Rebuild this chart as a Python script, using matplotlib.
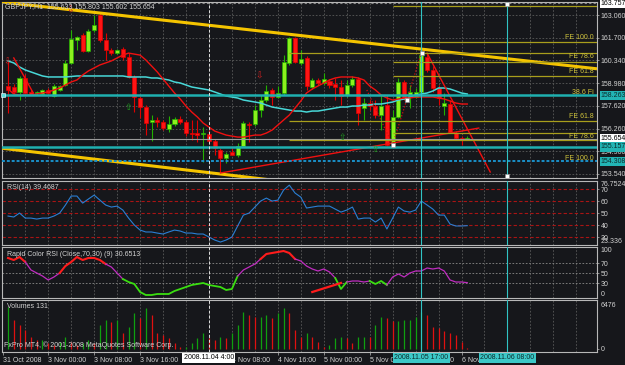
import numpy as np
import matplotlib.pyplot as plt
from matplotlib.transforms import blended_transform_factory as blend

plt.rcParams['font.family'] = ['Liberation Sans', 'DejaVu Sans']
plt.rcParams['font.size'] = 5

W, H = 625, 365
BG = '#16171b'
FG = '#d2d2d2'
GRID = '#5a5a5a'
FRAME = '#b8b8b8'

# GBPJPY H1, bar 0 = 31 Oct 2008 17:00 ... bar 80 = 6 Nov 2008 01:00
opens = [158.81, 158.75, 158.45, 159.29, 158.45, 158.39, 158.33, 158.57, 158.21, 158.57,
         158.87, 160.19, 161.56, 161.86, 160.90, 162.16, 163.06, 161.56, 160.96, 160.78,
         161.02, 160.55, 159.35, 158.09, 157.55, 156.65, 156.77, 156.65, 156.23, 156.53,
         156.83, 156.65, 155.99, 155.99, 155.93, 155.93, 155.51, 154.98, 154.50, 154.86,
         154.68, 155.22, 156.53, 156.53, 157.37, 157.97, 158.57, 158.15, 158.39, 160.19,
         161.68, 160.19, 160.49, 158.75, 159.17, 158.99, 159.11, 158.93, 158.75, 158.27,
         158.87, 159.23, 157.49, 157.79, 157.61, 157.07, 157.67, 155.39, 156.95, 159.05,
         158.21, 158.15, 158.45, 160.55, 159.77, 158.69, 157.61, 157.73, 155.99, 155.69,
         155.633]
highs = [160.37, 158.93, 159.41, 159.53, 158.57, 158.51, 158.63, 158.69, 158.93, 158.87,
         160.37, 162.16, 161.80, 161.98, 162.22, 163.06, 163.18, 161.98, 161.08, 161.02,
         161.14, 160.78, 159.47, 158.21, 157.67, 157.07, 156.95, 156.77, 157.01, 156.95,
         157.01, 156.77, 156.77, 156.77, 156.35, 156.17, 155.63, 155.10, 154.86, 155.10,
         155.39, 156.71, 156.65, 157.67, 158.27, 158.87, 158.69, 158.81, 160.66, 161.74,
         161.74, 160.96, 160.60, 159.29, 159.29, 159.59, 159.23, 159.29, 159.17, 159.17,
         159.41, 159.35, 158.09, 157.97, 157.97, 158.27, 158.27, 157.37, 159.29, 159.17,
         158.87, 158.69, 160.78, 160.72, 160.01, 158.87, 158.39, 157.97, 156.11, 155.81,
         155.803]
lows = [157.19, 158.27, 157.97, 158.39, 158.27, 158.27, 158.27, 158.33, 158.15, 158.51,
        158.81, 160.13, 160.96, 160.84, 160.84, 162.04, 161.44, 160.37, 160.66, 160.72,
        160.37, 159.29, 157.25, 156.89, 155.87, 155.51, 156.35, 156.17, 156.05, 156.41,
        156.53, 155.81, 155.57, 155.45, 154.26, 155.45, 154.68, 153.60, 154.20, 154.68,
        154.56, 155.16, 155.45, 156.41, 156.95, 157.85, 157.67, 158.09, 158.27, 160.07,
        160.19, 160.07, 158.57, 158.63, 158.87, 158.87, 158.69, 157.97, 157.67, 158.15,
        158.75, 156.47, 156.77, 157.37, 156.89, 156.17, 155.22, 155.22, 156.89, 157.97,
        157.49, 158.09, 158.33, 159.65, 158.45, 157.67, 157.07, 155.99, 155.57, 155.28,
        155.602]
closes = [158.57, 158.45, 159.29, 158.39, 158.27, 158.40, 158.57, 158.39, 158.81, 158.81,
          160.19, 161.62, 161.74, 160.90, 162.10, 162.46, 161.56, 160.96, 160.78, 160.96,
          160.55, 159.35, 158.15, 157.55, 156.59, 156.77, 156.65, 156.29, 156.53, 156.83,
          156.65, 155.99, 155.93, 155.87, 155.99, 155.51, 155.10, 154.50, 154.74, 154.68,
          155.22, 156.59, 156.47, 157.37, 157.97, 158.51, 158.15, 158.39, 160.25, 161.68,
          160.25, 160.43, 158.81, 159.17, 158.99, 159.23, 158.87, 158.75, 158.21, 158.87,
          159.23, 157.19, 157.79, 157.61, 157.07, 157.61, 155.28, 156.95, 159.05, 158.09,
          158.45, 158.45, 160.66, 159.77, 158.69, 158.09, 157.79, 156.05, 155.69, 155.63,
          155.654]

ma_red = [158.63, 158.33, 158.27, 158.27, 158.27, 158.33, 158.39, 158.45, 158.57, 158.69,
          158.87, 159.05, 159.17, 159.47, 159.71, 159.89, 160.07, 160.19, 160.31, 160.49,
          160.66, 160.78, 160.72, 160.66, 160.37, 160.01, 159.65, 159.23, 158.81, 158.39,
          158.03, 157.61, 157.25, 156.95, 156.59, 156.35, 156.11, 155.99, 155.87, 155.81,
          155.75, 155.75, 155.81, 155.87, 155.87, 155.99, 156.17, 156.47, 156.77, 157.07,
          157.49, 157.91, 158.39, 158.63, 158.81, 158.99, 159.17, 159.29, 159.35, 159.35,
          159.35, 159.29, 159.17, 158.81, 158.57, 158.27, 158.09, 157.97, 158.03, 158.09,
          158.09, 158.15, 158.15, 158.15, 158.15, 158.09, 158.03, 157.91, 157.79, 157.73,
          157.73]
ma_cyan = [160.31, 160.19, 159.95, 159.77, 159.65, 159.53, 159.41, 159.35, 159.35, 159.35,
           159.35, 159.38, 159.41, 159.41, 159.41, 159.41, 159.41, 159.41, 159.41, 159.41,
           159.41, 159.35, 159.35, 159.35, 159.35, 159.29, 159.29, 159.23, 159.17, 159.05,
           158.99, 158.87, 158.75, 158.69, 158.63, 158.57, 158.45, 158.33, 158.21, 158.15,
           158.09, 157.97, 157.91, 157.85, 157.79, 157.67, 157.55, 157.49, 157.43, 157.37,
           157.31, 157.31, 157.25, 157.31, 157.31, 157.37, 157.43, 157.49, 157.55, 157.55,
           157.61, 157.61, 157.67, 157.67, 157.73, 157.73, 157.79, 157.85, 157.97, 158.03,
           158.15, 158.27, 158.33, 158.39, 158.51, 158.69, 158.69, 158.63, 158.51, 158.39,
           158.33]

rsi = [47.5, 46.7, 50.0, 45.8, 45.8, 45.0, 45.8, 45.8, 47.5, 50.0,
       56.7, 64.2, 64.2, 58.3, 61.7, 65.0, 60.8, 56.7, 55.0, 55.8,
       52.5, 45.8, 40.0, 35.8, 34.2, 34.2, 33.3, 32.5, 34.2, 35.8,
       35.0, 33.3, 33.3, 32.5, 32.5, 30.0, 27.5, 25.8, 27.5, 30.0,
       39.2, 48.3, 50.0, 55.0, 60.0, 62.5, 60.0, 60.8, 69.2, 73.3,
       66.7, 63.3, 54.2, 55.0, 55.8, 55.8, 55.8, 53.3, 50.8, 52.5,
       55.0, 45.0, 45.8, 45.8, 42.5, 45.8, 36.7, 45.8, 55.0, 51.7,
       50.8, 52.5, 60.0, 56.7, 53.3, 48.3, 48.3, 40.8, 39.2, 39.2,
       39.47]
rrsi = [80, 76, 82, 72, 56, 50, 44, 36, 42, 50,
        64, 72, 82, 76, 80, 80, 76, 68, 62, 50,
        38, 32, 28, 12, 6, 6, 8, 8, 8, 14,
        18, 22, 26, 28, 30, 26, 24, 22, 16, 18,
        44, 56, 62, 68, 78, 88, 90, 92, 94, 90,
        78, 74, 64, 58, 54, 58, 52, 40, 18, 32,
        34, 34, 32, 34, 28, 34, 26, 42, 48, 42,
        50, 54, 54, 60, 58, 60, 54, 36, 32, 32,
        30.65]
# colour state of the Rapid Color RSI line: (first bar, last bar, state)
rrsi_segments = [(0, 3, 'up'), (3, 9, 'mid'), (9, 17, 'up'), (17, 20, 'mid'),
                 (20, 40, 'down'), (40, 44, 'mid'), (44, 50, 'up'), (50, 57, 'mid'),
                 (57, 59, 'down'), (59, 63, 'mid'), (63, 66, 'down'), (66, 80, 'mid')]
volumes = [5544, 3828, 3168, 2508, 1584, 1188, 1250, 792, 528, 924,
           1584, 924, 528, 792, 1188, 792, 3168, 3828, 3564, 3828,
           2112, 2904, 4752, 4092, 5412, 4488, 2112, 1848, 1452, 792,
           264, 300, 792, 1452, 2112, 1452, 1188, 1584, 1452, 2112,
           3168, 4884, 4488, 4224, 4250, 4488, 4092, 4752, 5412, 4752,
           2508, 1584, 2112, 1584, 924, 264, 528, 1452, 1584, 1452,
           792, 1584, 1600, 1560, 3168, 4224, 4092, 3696, 3720, 3828,
           3850, 4224, 4900, 4488, 2904, 2772, 2376, 2112, 1848, 924,
           131]

time_ticks = [-0.9, 7, 15, 23, 31, 39, 47, 55, 63, 71, 79]
time_labels = ['31 Oct 2008', '3 Nov 00:00', '3 Nov 08:00', '3 Nov 16:00', '4 Nov 00:00',
               '4 Nov 08:00', '4 Nov 16:00', '5 Nov 00:00', '5 Nov 08:00', '5 Nov 16:00',
               '6 Nov 00:00']
price_ticks = [163.06, 161.70, 160.34, 158.98, 157.62, 156.26, 154.90, 153.54]

# chart objects
upper_trend = ([16, 72], [163.18, 161.02])
lower_trend = ([0, 37], [155.04, 153.54])
red_support = ([37, 82], [153.60, 156.29])
red_steep = ([73, 84], [160.78, 153.66])
red_short = ([1, 4.4], [160.49, 158.39])
zigzag = ([62.5, 67, 72], [158.57, 155.28, 160.78])
cyan_levels = [158.263, 155.157]
blue_level = 154.308
bid = 155.654
top_line = 163.757
fe_lines = [(163.60, 67), (161.44, 67), (160.78, 49), (160.25, 67), (159.41, 67),
            (156.71, 49), (155.99, 67), (155.57, 49)]
fe_labels = [(161.74, 'FE 100.0'), (160.55, 'FE 78.6'), (159.65, 'FE 61.8'), (158.45, '38.6 Fi'),
             (157.01, 'FE 61.8'), (155.81, 'FE 78.6'), (154.44, 'FE 100.0')]
rrsi_trend = ([53, 58], [12, 30])
line_04 = 35
line_05 = 72
line_06 = 87

fig = plt.figure(figsize=(W / 100, H / 100), dpi=100, facecolor=BG)


def panel(y0, y1):
    ax = fig.add_axes([2 / W, 1 - y1 / H, 595 / W, (y1 - y0) / H])
    ax.set_facecolor(BG)
    ax.set_xlim(-1.05, 102.6)
    for s in ax.spines.values():
        s.set_color(FRAME)
        s.set_linewidth(0.8)
    ax.tick_params(axis='x', bottom=False, labelbottom=False)
    ax.yaxis.tick_right()
    ax.tick_params(axis='y', colors=FRAME, labelcolor=FG, length=1.5, width=0.5, pad=1, labelsize=5)
    for g in range(3, 103, 4):
        ax.axvline(g, color=GRID, lw=0.6, ls=(0, (2, 2)), zorder=0)
    ax.axvline(line_04, color='#e0e0e0', lw=0.7, ls=(0, (3, 2)), zorder=4)
    ax.axvline(line_05, color='#30c4c4', lw=0.8, zorder=4)
    ax.axvline(line_06, color='#30c4c4', lw=0.8, zorder=4)
    return ax


x = np.arange(len(opens))
o, hi, lo, c = map(np.array, (opens, highs, lows, closes))

# ---- price panel ----
ax = panel(2, 178)
ax.set_ylim(153.30, 163.84)
ax.set_yticks(price_ticks, [f'{p:.3f}' for p in price_ticks])
ax.grid(axis='y', color=GRID, lw=0.6, ls=(0, (2, 2)))
ax.set_axisbelow(True)

up = c >= o
body_lo = np.minimum(o, c)
body_h = np.maximum(np.abs(c - o), 0.05)
ax.vlines(x[up], lo[up], hi[up], color='#22b000', lw=0.8, zorder=2)
ax.bar(x[up], body_h[up], bottom=body_lo[up], width=0.7, color='#8cf01e', edgecolor='#22b000', lw=0.5, zorder=2)
ax.vlines(x[~up], lo[~up], hi[~up], color='#e00000', lw=0.8, zorder=2)
ax.bar(x[~up], body_h[~up], bottom=body_lo[~up], width=0.7, color='#ff1414', edgecolor='#e00000', lw=0.5, zorder=2)

ax.plot(x, ma_cyan, color='#48d8d8', lw=1.1, zorder=3)
ax.plot(x, ma_red, color='#f01010', lw=1.0, zorder=3)

xl = np.array(ax.get_xlim())
for (xs, ys), col in [(upper_trend, '#f5c400'), (lower_trend, '#f5c400')]:
    k = (ys[1] - ys[0]) / (xs[1] - xs[0])
    ax.plot(xl, ys[0] + k * (xl - xs[0]), color=col, lw=2.2, zorder=3, solid_capstyle='butt')
for xs, ys in (red_support, red_steep, red_short):
    ax.plot(xs, ys, color='#f01010', lw=1.0, zorder=3)
ax.plot(*zigzag, color='#d01010', lw=0.9, ls=(0, (1, 1.5)), zorder=3)

for lv in cyan_levels:
    ax.axhline(lv, color='#1fb0b0', lw=1.8, zorder=3)
ax.axhline(blue_level, color='#1a90c8', lw=1.4, ls=(0, (1.5, 1)), zorder=3)
ax.axhline(bid, color='#9a9a9a', lw=0.8, zorder=3)
ax.axhline(top_line, color='#8a8a8a', lw=0.8, ls=(0, (2, 2)), zorder=3)
for lv, start in fe_lines:
    ax.hlines(lv, start, xl[1], color='#a89e1c', lw=0.9, zorder=3)

tr = blend(ax.transAxes, ax.transData)
for lv, lab in fe_labels:
    ax.text(0.995, lv, lab, transform=tr, color='#d0c43c', ha='right', va='center', fontsize=5, zorder=5)

box = dict(boxstyle='square,pad=0.15', ec='none')
for lv, lab, fc, tc in [(top_line, '163.757', 'white', 'black'), (cyan_levels[0], '158.263', '#22b4b4', '#0c2c2c'),
                        (bid, '155.654', 'white', 'black'), (cyan_levels[1], '155.157', '#22b4b4', '#0c2c2c'),
                        (blue_level, '154.308', '#22b4b4', '#0c2c2c')]:
    ax.text(1.006, lv, lab, transform=tr, color=tc, ha='left', va='center', fontsize=5,
            bbox=dict(box, fc=fc), clip_on=False, zorder=6)

# markers and anchors
for xi, yi in [(-0.2, 160.25), (10.8, 163.36), (43.7, 159.41)]:
    ax.text(xi, yi, '\u21e9', color='#d02020', fontsize=6.5, ha='center', va='center', family='DejaVu Sans', zorder=5)
for xi, yi in [(20.9, 157.55), (58.2, 155.75), (64, 155.0)]:
    ax.text(xi, yi, '\u21e7', color='#20a020', fontsize=6.5, ha='center', va='center', family='DejaVu Sans', zorder=5)
ax.plot([72.1, 67, 69.5, 87, 87], [160.78, 155.28, 157.97, 163.72, 153.42], ls='none', marker='s', ms=2.2,
        mfc='white', mec='#909090', mew=0.4, zorder=6)
ax.plot([-0.9], [158.263], ls='none', marker='s', ms=2.2, mfc='#60e0e0', mec='white', mew=0.4, zorder=6, clip_on=False)
ax.text(0.005, 0.972, 'GBPJPY,H1  155.633 155.803 155.602 155.654', transform=ax.transAxes,
        color=FG, ha='left', va='center', fontsize=5, zorder=7)

# ---- RSI panel ----
ar = panel(181, 245)
ar.set_ylim(23.336, 76.7524)
ar.set_yticks([30, 40, 50, 60, 70])
for lv in (30, 40, 50, 60, 70):
    ar.axhline(lv, color='#a81414', lw=0.8, ls=(0, (3, 2)), zorder=1)
ar.plot(x, rsi, color='#2a7fd4', lw=0.8, zorder=3)
tr = blend(ar.transAxes, ar.transData)
ar.text(1.006, 1.0, '76.7524', transform=ar.transAxes, color=FG, ha='left', va='top', fontsize=5)
ar.text(1.006, 0.0, '23.336', transform=ar.transAxes, color=FG, ha='left', va='bottom', fontsize=5)
ar.text(0.008, 0.95, 'RSI(14) 39.4687', transform=ar.transAxes, color=FG, ha='left', va='top', fontsize=5)

# ---- Rapid Color RSI panel ----
aq = panel(247, 298)
aq.set_ylim(0, 102)
aq.set_yticks([30, 50, 70])
for lv in (30, 50, 70):
    aq.axhline(lv, color='#8a8a8a', lw=0.6, ls=(0, (2, 2)), zorder=1)
seg_col = {'up': '#ff1c1c', 'mid': '#c02cc0', 'down': '#3ade10'}
seg_lw = {'up': 1.5, 'mid': 0.9, 'down': 1.3}
for a, b, st in rrsi_segments:
    aq.plot(x[a:b + 1], rrsi[a:b + 1], color=seg_col[st], lw=seg_lw[st], zorder=3)
aq.plot(*rrsi_trend, color='#ff1c1c', lw=1.6, zorder=3)
aq.text(1.006, 1.0, '100', transform=aq.transAxes, color=FG, ha='left', va='top', fontsize=5)
aq.text(1.006, 0.0, '0', transform=aq.transAxes, color=FG, ha='left', va='bottom', fontsize=5)
aq.text(0.008, 0.93, 'Rapid Color RSI (Close,70,30) (9) 30.6513', transform=aq.transAxes,
        color=FG, ha='left', va='top', fontsize=5)

# ---- Volumes panel ----
av = panel(300, 352)
av.set_ylim(-400, 6476)
av.set_yticks([0])
vol = np.array(volumes)
rising = np.r_[True, vol[1:] > vol[:-1]]
av.vlines(x[rising], 0, vol[rising], color='#0fa00f', lw=0.9, zorder=2)
av.vlines(x[~rising], 0, vol[~rising], color='#e01010', lw=0.9, zorder=2)
av.text(1.006, 0.97, '6476', transform=av.transAxes, color=FG, ha='left', va='top', fontsize=5)
av.text(0.008, 0.94, 'Volumes 131', transform=av.transAxes, color=FG, ha='left', va='top', fontsize=5)
av.text(0.003, 0.05, 'FxPro MT4, \u00a9 2001-2008 MetaQuotes Software Corp.', transform=av.transAxes,
        color=FG, ha='left', va='bottom', fontsize=5, zorder=6)

av.set_xticks(time_ticks, time_labels)
av.tick_params(axis='x', bottom=True, labelbottom=True, length=2.5, width=0.5, color=FRAME,
               labelcolor=FG, pad=1, labelsize=5)
for lbl in av.get_xticklabels():
    lbl.set_ha('left')

tb = blend(av.transData, av.transAxes)
for xi, lab, fc, tc in [(line_04, '2008.11.04 4:00', 'white', 'black'),
                        (line_05, '2008.11.05 17:00', '#3cc8c8', '#0c2c2c'),
                        (line_06, '2008.11.06 08:00', '#3cc8c8', '#0c2c2c')]:
    av.text(xi, -0.115, lab, transform=tb, color=tc, ha='center', va='center', fontsize=5,
            bbox=dict(boxstyle='square,pad=0.2', fc=fc, ec='none'), clip_on=False, zorder=8)

fig.savefig('out.png', dpi=100, facecolor=BG)
